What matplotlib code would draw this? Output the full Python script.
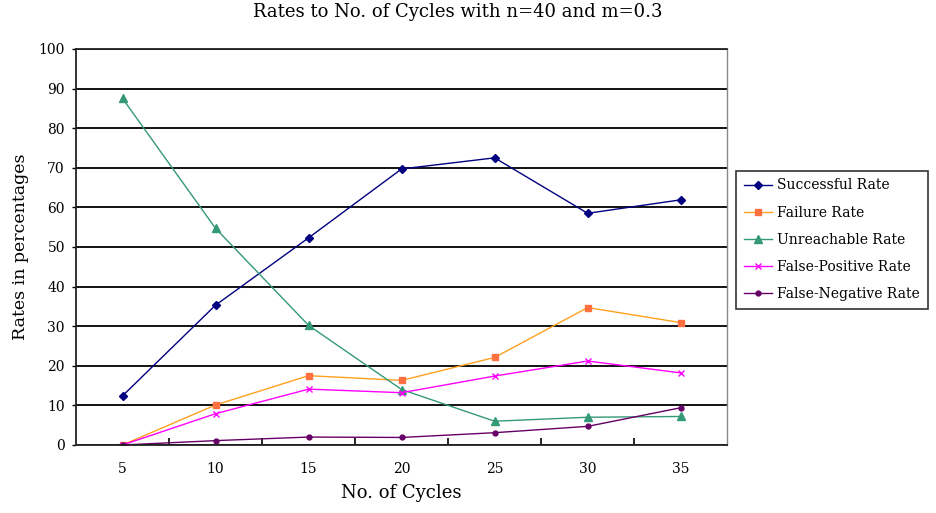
import numpy as np
import matplotlib.pyplot as plt

# Rates (%) for each number of cycles, n=40, m=0.3
cycles = [5, 10, 15, 20, 25, 30, 35]
successful = [12.4, 35.3, 52.3, 69.7, 72.5, 58.5, 61.9]
failure = [0.0, 10.1, 17.5, 16.3, 22.1, 34.7, 30.9]
unreachable = [87.5, 54.7, 30.2, 14.0, 6.0, 7.0, 7.2]
false_positive = [0.0, 7.9, 14.1, 13.2, 17.4, 21.2, 18.2]
false_negative = [0.0, 1.1, 2.0, 1.9, 3.1, 4.7, 9.4]

plt.rcParams['font.family'] = ['DejaVu Serif', 'Liberation Serif']

fig = plt.figure(figsize=(9.37, 5.13), dpi=100)
ax = fig.add_axes([0.0811, 0.1326, 0.695, 0.772])

x = np.arange(len(cycles))
ax.plot(x, successful, color='#000080', lw=1, marker='D', ms=4.5,
        mfc='#000080', mec='#000080', label='Successful Rate')
ax.plot(x, failure, color='#FFA020', lw=1, marker='s', ms=4.5,
        mfc='#FF7040', mec='#FF7040', label='Failure Rate')
ax.plot(x, unreachable, color='#339977', lw=1, marker='^', ms=5.5,
        mfc='#339977', mec='#339977', label='Unreachable Rate')
ax.plot(x, false_positive, color='#FF00FF', lw=1, marker='x', ms=4.5,
        mew=1, label='False-Positive Rate')
ax.plot(x, false_negative, color='#660066', lw=1, marker='o', ms=3.5,
        mfc='#660066', mec='#660066', label='False-Negative Rate')

ax.set_xlim(-0.5, len(cycles) - 0.5)
ax.set_ylim(0, 100)
ax.set_yticks(np.arange(0, 101, 10))
ax.set_xticks(x)
ax.set_xticklabels([str(c) for c in cycles])
ax.set_xticks(np.arange(0.5, len(cycles) - 0.5, 1), minor=True)
ax.tick_params(axis='x', which='major', length=0, pad=12, labelsize=10)
ax.tick_params(axis='x', which='minor', direction='in', length=5, width=1.2)
ax.tick_params(axis='y', length=3, width=1, labelsize=10, pad=5)

ax.yaxis.grid(True, color='black', lw=1.3)
ax.set_axisbelow(True)
for side in ['left', 'bottom', 'top']:
    ax.spines[side].set_color('#222222')
    ax.spines[side].set_linewidth(1.3)
ax.spines['right'].set_color('#888888')
ax.spines['right'].set_linewidth(1)

# title is centred over the whole chart, not just the plot area
fig.text(0.488, 0.977, 'Rates to No. of Cycles with n=40 and m=0.3',
         fontsize=13, ha='center', va='center')
ax.set_xlabel('No. of Cycles', fontsize=13, labelpad=6)
ax.set_ylabel('Rates in percentages', fontsize=12.5, labelpad=7)

leg = ax.legend(loc='center left', bbox_to_anchor=(1.014, 0.518), fontsize=10,
                frameon=True, fancybox=False, edgecolor='black',
                handlelength=2.0, handletextpad=0.4, borderpad=0.55,
                labelspacing=0.95, borderaxespad=0)
leg.get_frame().set_linewidth(1.2)

fig.savefig('out.png', dpi=100)
